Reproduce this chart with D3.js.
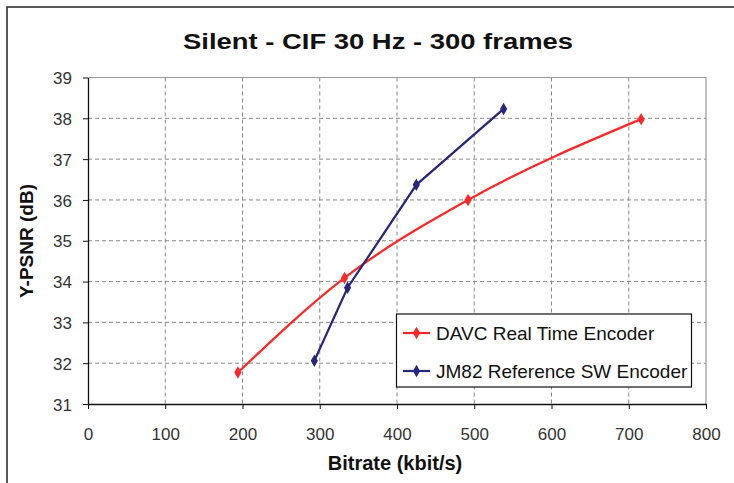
<!DOCTYPE html>
<html>
<head>
<meta charset="utf-8">
<script src="https://cdn.jsdelivr.net/npm/d3@7"></script>
<style>
  body { margin: 0; background: #fff; }
  svg { font-family: "Liberation Sans", Arial, sans-serif; }
</style>
</head>
<body>
<script>
// values
const davcRate = [194, 332, 492, 716]
const davcPsnr = [31.77, 34.09, 36.0, 37.98]
const jmRate = [293, 336, 425, 538]
const jmPsnr = [32.06, 33.85, 36.37, 38.23]
const xTicks = [0, 100, 200, 300, 400, 500, 600, 700, 800]
const yTicks = [31, 32, 33, 34, 35, 36, 37, 38, 39]
const seriesNames = ["DAVC Real Time Encoder", "JM82 Reference SW Encoder"]

const width = 734, height = 483
const plotL = 88, plotR = 706, plotT = 77.5, plotB = 404

const svg = d3.select("body").append("svg")
  .attr("width", width).attr("height", height)

// outer chart border (runs off the right/bottom edges)
svg.append("rect")
  .attr("x", 7).attr("y", 7)
  .attr("width", 740).attr("height", 490)
  .attr("fill", "#fff").attr("stroke", "#222").attr("stroke-width", 1.5)

const x = d3.scaleLinear().domain([0, 800]).range([plotL, plotR])
const y = d3.scaleLinear().domain([31, 39]).range([plotB, plotT])

// gridlines
const grid = svg.append("g").attr("stroke", "#888").attr("stroke-dasharray", "4,3")
grid.selectAll(".vx").data(xTicks.slice(1, -1)).join("line")
  .attr("x1", d => x(d)).attr("x2", d => x(d))
  .attr("y1", plotT).attr("y2", plotB)
grid.selectAll(".hy").data(yTicks.slice(1, -1)).join("line")
  .attr("x1", plotL).attr("x2", plotR)
  .attr("y1", d => y(d)).attr("y2", d => y(d))

// plot frame top/right in gray
svg.append("path")
  .attr("d", `M${plotL},${plotT}H${plotR}V${plotB}`)
  .attr("fill", "none").attr("stroke", "#999").attr("stroke-width", 1.2)

const xAxis = svg.append("g")
  .attr("transform", `translate(0,${plotB})`)
  .call(d3.axisBottom(x).tickValues(xTicks).tickSize(5).tickSizeOuter(0))
const yAxis = svg.append("g")
  .attr("transform", `translate(${plotL},0)`)
  .call(d3.axisLeft(y).tickValues(yTicks).tickSize(5).tickSizeOuter(0))

for (const ax of [xAxis, yAxis]) {
  ax.select(".domain").attr("stroke", "#111").attr("stroke-width", 1.3)
  ax.selectAll(".tick line").attr("stroke", "#111")
  ax.selectAll(".tick text")
    .attr("font-size", 17).attr("fill", "#333")
    .attr("font-family", "'Liberation Sans', Arial, sans-serif")
}
xAxis.selectAll(".tick text").attr("y", 36).attr("dy", null)
yAxis.selectAll(".tick text").attr("x", -16).attr("dy", "0.36em")

// series
const series = [
  { name: seriesNames[0], color: "#ff2626", rate: davcRate, psnr: davcPsnr, curve: d3.curveMonotoneX },
  { name: seriesNames[1], color: "#26267a", rate: jmRate, psnr: jmPsnr, curve: d3.curveLinear }
]

const diamond = d3.symbol().type(d3.symbolDiamond).size(45)

series.forEach(s => {
  const pts = s.rate.map((r, i) => [r, s.psnr[i]])
  svg.append("path")
    .datum(pts)
    .attr("fill", "none").attr("stroke", s.color).attr("stroke-width", 2.2)
    .attr("d", d3.line().x(d => x(d[0])).y(d => y(d[1])).curve(s.curve))
  svg.append("g").selectAll("path").data(pts).join("path")
    .attr("transform", d => `translate(${x(d[0])},${y(d[1])})`)
    .attr("d", diamond).attr("fill", s.color)
})

// legend
const lg = svg.append("g")
lg.append("rect")
  .attr("x", 396.5).attr("y", 314).attr("width", 295).attr("height", 73)
  .attr("fill", "#fff").attr("stroke", "#111").attr("stroke-width", 1.2)
series.forEach((s, i) => {
  const ly = 333 + i * 38
  lg.append("line").attr("x1", 403).attr("x2", 430).attr("y1", ly).attr("y2", ly)
    .attr("stroke", s.color).attr("stroke-width", 2.2)
  lg.append("path").attr("transform", `translate(416.5,${ly})`).attr("d", diamond).attr("fill", s.color)
  lg.append("text").attr("x", 436).attr("y", ly).attr("dy", "0.36em")
    .attr("font-size", 19).attr("fill", "#111").text(s.name)
})

// titles
svg.append("text").attr("x", 378).attr("y", 49).attr("text-anchor", "middle")
  .attr("font-size", 22).attr("font-weight", "bold").attr("fill", "#111")
  .attr("textLength", 390).attr("lengthAdjust", "spacingAndGlyphs")
  .text("Silent - CIF 30 Hz - 300 frames")
svg.append("text").attr("x", 395).attr("y", 470).attr("text-anchor", "middle")
  .attr("font-size", 20).attr("font-weight", "bold").attr("fill", "#111")
  .text("Bitrate (kbit/s)")
svg.append("text")
  .attr("transform", "translate(33,241) rotate(-90)").attr("text-anchor", "middle")
  .attr("font-size", 19).attr("font-weight", "bold").attr("fill", "#111")
  .text("Y-PSNR (dB)")
</script>
</body>
</html>
